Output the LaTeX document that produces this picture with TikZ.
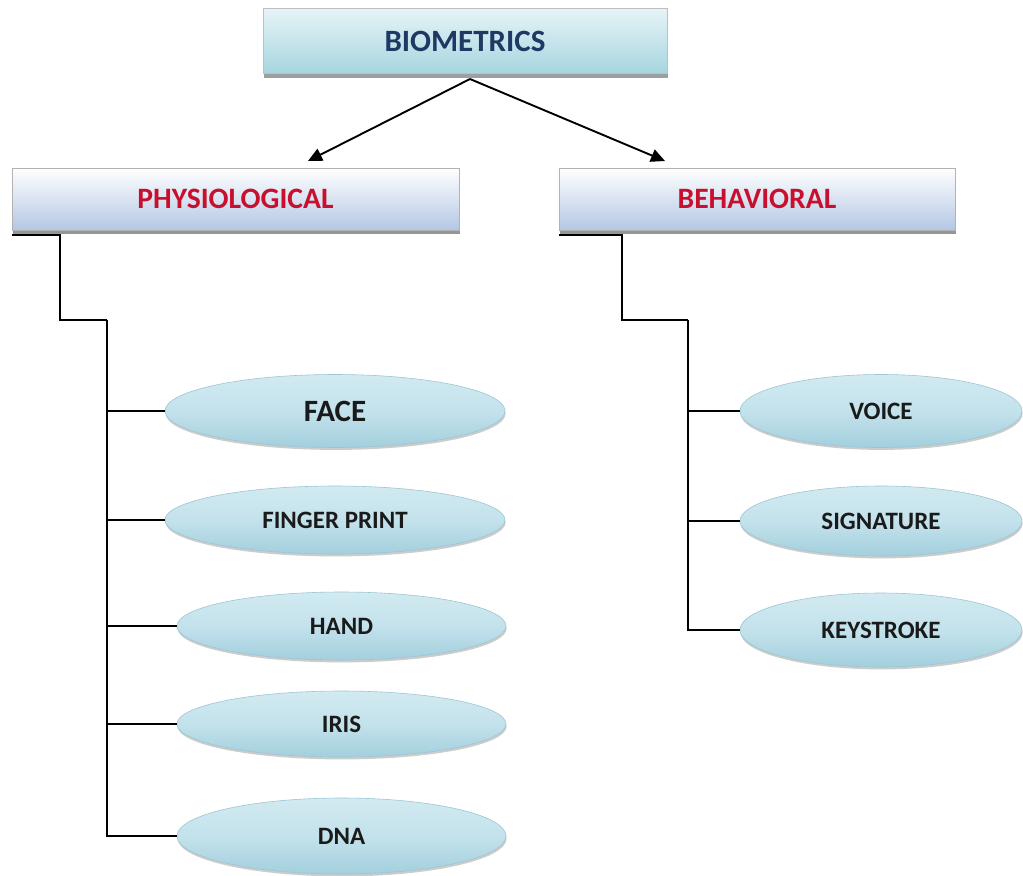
\documentclass[tikz,border=0pt]{standalone}
\usepackage{fontspec}
\setmainfont{Carlito}
\usetikzlibrary{shapes.geometric,arrows.meta,shadows}
\definecolor{navy}{HTML}{1F3864}
\definecolor{redtxt}{HTML}{C8102E}
\definecolor{txt}{HTML}{1A1A1A}
\definecolor{catblue}{HTML}{B3C7E3}
\definecolor{biotop}{HTML}{E6F4F7}
\definecolor{biobot}{HTML}{A6D5DF}
\definecolor{leaftop}{HTML}{D2EAF1}
\definecolor{leafmid}{HTML}{C3E2EC}
\definecolor{leafbot}{HTML}{A3CFDD}
\definecolor{leafedge}{HTML}{9CC6D4}
\tikzset{
  catbox/.style={rectangle, draw=black!30, line width=0.4pt, top color=white, bottom color=catblue,
    inner sep=0pt, minimum height=31pt, drop shadow={shadow xshift=0.6pt, shadow yshift=-1.8pt, opacity=0.75, fill=black!55},
    font=\bfseries\fontsize{14.8pt}{16pt}\selectfont, text=redtxt},
  leaf/.style={ellipse, draw=leafedge, line width=0.3pt, top color=leaftop, bottom color=leafbot, middle color=leafmid,
    inner sep=0pt, minimum height=35pt, drop shadow={shadow xshift=0.3pt, shadow yshift=-1.2pt, opacity=0.4, fill=black!50},
    font=\bfseries\fontsize{12.5pt}{14pt}\selectfont, text=txt},
  conn/.style={draw=black, line width=0.95pt},
  arr/.style={conn, -{Triangle[length=7pt,width=6.5pt]}}
}
\begin{document}
\begin{tikzpicture}[x=0.5pt,y=-0.5pt]
\useasboundingbox[fill=white] (0,0) rectangle (1023,875);
% top
\node[rectangle, draw=black!25, line width=0.4pt, top color=biotop, bottom color=biobot, inner sep=0pt,
  minimum width=202pt, minimum height=32.5pt,
  drop shadow={shadow xshift=0.6pt, shadow yshift=-2pt, opacity=0.75, fill=black!50},
  font=\bfseries\fontsize{15.5pt}{17pt}\selectfont, text=navy] (bio) at (465,41) {BIOMETRICS};
% categories
\node[catbox, minimum width=223.5pt] (phys) at (235.5,199) {PHYSIOLOGICAL};
\node[catbox, minimum width=198pt] (behav) at (757,199) {BEHAVIORAL};
% arrows
\coordinate (apex) at (470,79);
\coordinate (pend) at (308,161);
\coordinate (bend) at (665,161);
\draw[arr] (apex) -- (pend);
\draw[arr] (apex) -- (bend);
% left leaves
\node[leaf, minimum width=170pt, minimum height=36.5pt, font=\bfseries\fontsize{15.5pt}{17pt}\selectfont] (face) at (335,411) {FACE};
\node[leaf, minimum width=170pt, minimum height=34pt] (finger) at (335,520) {FINGER PRINT};
\node[leaf, minimum width=164.5pt, minimum height=34pt] (hand) at (341.5,626) {HAND};
\node[leaf, minimum width=164.5pt, minimum height=33pt] (iris) at (341.5,724) {IRIS};
\node[leaf, minimum width=164.5pt, minimum height=38pt] (dna) at (341.5,836) {DNA};
% right leaves
\node[leaf, minimum width=141pt, minimum height=36.5pt] (voice) at (881,411) {VOICE};
\node[leaf, minimum width=141pt, minimum height=35pt] (sign) at (881,521) {SIGNATURE};
\node[leaf, minimum width=141pt, minimum height=37pt] (keys) at (881,630) {KEYSTROKE};
% left tree
\coordinate (ltop) at (107,320);
\coordinate (rtop) at (688,320);
\draw[conn] ([yshift=-2.5pt]phys.south west) -- ++(48,0) |- (ltop);
\draw[conn] (ltop) |- (dna.west);
\draw[conn] (ltop |- face.west) -- (face.west);
\draw[conn] (ltop |- finger.west) -- (finger.west);
\draw[conn] (ltop |- hand.west) -- (hand.west);
\draw[conn] (ltop |- iris.west) -- (iris.west);
% right tree
\draw[conn] ([yshift=-2.5pt]behav.south west) -- ++(63,0) |- (rtop);
\draw[conn] (rtop) |- (keys.west);
\draw[conn] (rtop |- voice.west) -- (voice.west);
\draw[conn] (rtop |- sign.west) -- (sign.west);
\end{tikzpicture}
\end{document}
